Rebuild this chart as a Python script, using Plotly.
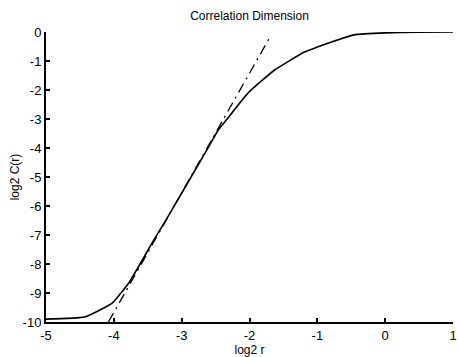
import plotly.graph_objects as go

# Solid curve: log2 C(r) vs log2 r
curve_x = [-5.0, -4.43, -4.02, -3.77, -3.41, -3.23, -2.63, -2.46, -2.34, -2.02, -1.63, -1.19, -1.0, -0.71, -0.46, 0.0, 0.5, 1.0]
curve_y = [-9.9, -9.83, -9.34, -8.62, -7.17, -6.48, -4.07, -3.38, -3.03, -2.1, -1.31, -0.69, -0.52, -0.28, -0.1, -0.03, -0.01, 0.0]

# Dash-dot fitted line
fit_x = [-4.08, -1.68]
fit_y = [-10.0, -0.1]

x_ticks = [-5, -4, -3, -2, -1, 0, 1]
y_ticks = [0, -1, -2, -3, -4, -5, -6, -7, -8, -9, -10]

fig = go.Figure()
fig.add_trace(go.Scatter(x=curve_x, y=curve_y, mode="lines",
                         line=dict(color="black", width=1.6, shape="spline", smoothing=0.4),
                         showlegend=False))
fig.add_trace(go.Scatter(x=fit_x, y=fit_y, mode="lines",
                         line=dict(color="black", width=1.3, dash="10px,5px,2px,5px"),
                         showlegend=False))

font = dict(family="Arial, Liberation Sans, sans-serif", size=13, color="black")

fig.update_layout(
    width=458, height=357,
    margin=dict(l=46, r=5, t=32, b=35, autoexpand=False),
    paper_bgcolor="white", plot_bgcolor="white",
    font=font,
    title=dict(text="Correlation Dimension", x=0.5, xanchor="center", xref="paper",
               y=0.955, yref="container", yanchor="middle",
               font=dict(family="Arial, Liberation Sans, sans-serif", size=12, color="black")),
    xaxis=dict(range=[-5, 1], tickvals=x_ticks, ticktext=[str(v) for v in x_ticks],
               showgrid=False, zeroline=False, showline=True, linecolor="black", linewidth=2,
               ticks="inside", ticklen=4, tickcolor="black", tickwidth=1.5, automargin=False,
               ticklabeloverflow="allow",
               title=dict(text="log2 r", standoff=0, font=dict(size=12))),
    yaxis=dict(range=[-10, 0], tickvals=y_ticks, ticktext=[str(v) for v in y_ticks],
               showgrid=False, zeroline=False, showline=True, linecolor="black", linewidth=2,
               ticks="inside", ticklen=4, tickcolor="black", tickwidth=1.5, automargin=False,
               ticklabeloverflow="allow",
               title=dict(text="log2 C(r)", standoff=0, font=dict(size=12))),
)

fig.write_html("out.html", config={"displayModeBar": False},
               post_script="document.body.style.margin='0';document.body.style.overflow='hidden';")
